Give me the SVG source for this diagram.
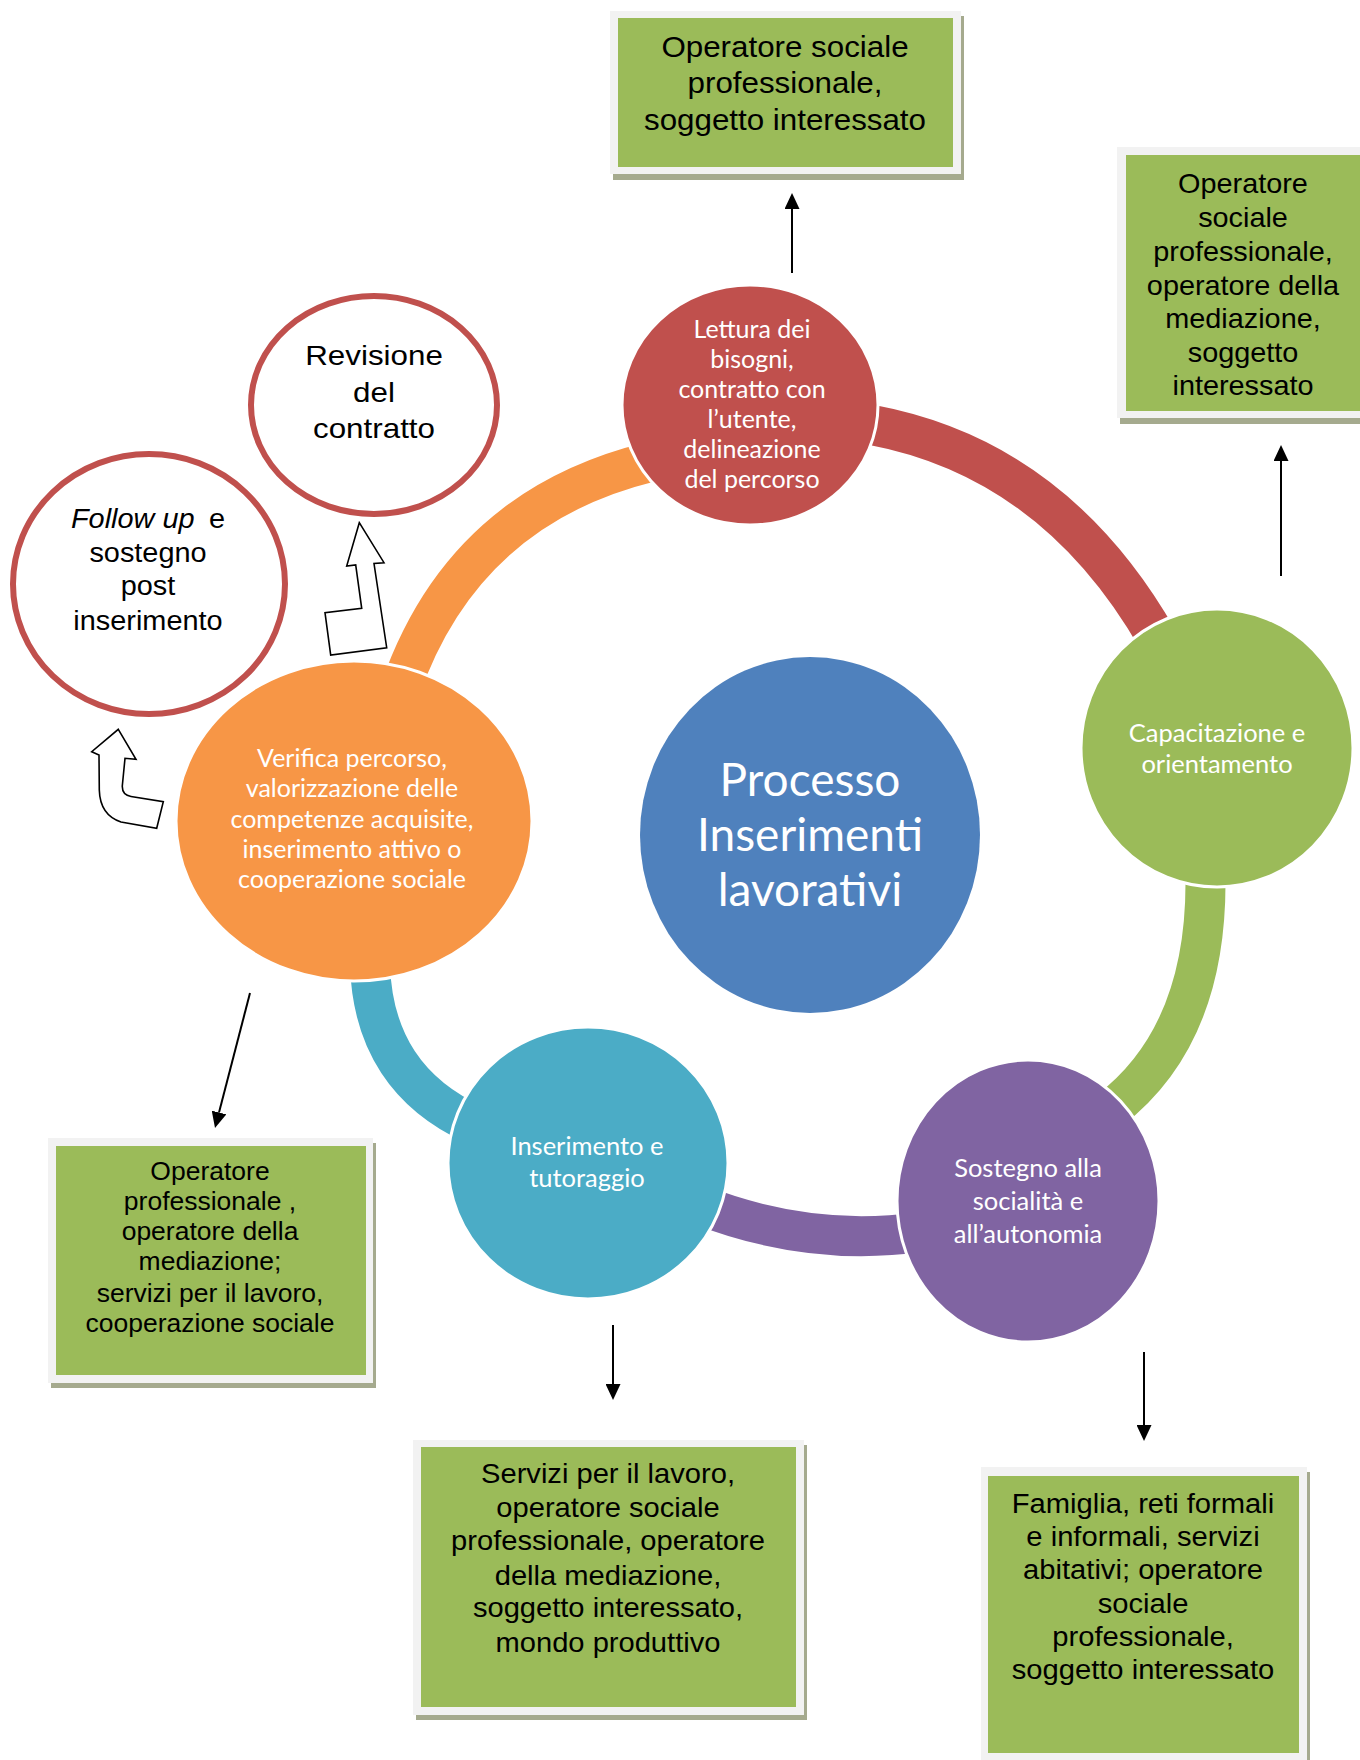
<svg xmlns="http://www.w3.org/2000/svg" width="1360" height="1760" viewBox="0 0 1360 1760">
  <style>
    .box-shadow { fill: #A5AA8E; }
    .box-frame { fill: #F2F2F2; }
    .box-fill { fill: #9BBB59; }
    .box-text { font-family: "Liberation Sans", Arial, sans-serif; fill: #000; text-anchor: middle; }
    .step-text { font-family: Lato, "Open Sans", sans-serif; fill: #FFFFFF; text-anchor: middle; font-size: 25px; }
    .step { stroke: #FFFFFF; stroke-width: 3; }
    .band { fill: none; stroke-width: 40; stroke-linecap: butt; }
    .note { fill: #FFFFFF; stroke: #C0504D; stroke-width: 6; }
    .link { stroke: #000; stroke-width: 2; fill: none; }
    .block-arrow { fill: #FFFFFF; stroke: #000; stroke-width: 1.6; stroke-linejoin: miter; }
  </style>
  <defs>
    <marker id="head" markerUnits="userSpaceOnUse" markerWidth="16" markerHeight="15" refX="0" refY="7.5" orient="auto">
      <path d="M0,0 L16,7.5 L0,15 Z" fill="#000"/>
    </marker>
  </defs>

  <rect width="1360" height="1760" fill="#FFFFFF"/>

  <!-- cycle bands between the steps -->
  <g id="connectors">
    <path class="band" stroke="#C0504D" d="M872,425 Q1055,459.5 1158,640"/>
    <path class="band" stroke="#9BBB59" d="M1205,860 Q1212.5,1031 1110,1110"/>
    <path class="band" stroke="#8064A2" d="M920,1232 Q810,1247.5 700,1205"/>
    <path class="band" stroke="#4BACC6" d="M475,1125 Q373.5,1079 370,965"/>
    <path class="band" stroke="#F79646" d="M400,690 Q463,508 650,462"/>

    <!-- arrows towards the actor boxes -->
    <line class="link" x1="792" y1="273" x2="792" y2="209" marker-end="url(#head)"/>
    <line class="link" x1="1281" y1="576" x2="1281" y2="461" marker-end="url(#head)"/>
    <line class="link" x1="250" y1="993" x2="219" y2="1112.5" marker-end="url(#head)"/>
    <line class="link" x1="613" y1="1325" x2="613" y2="1384" marker-end="url(#head)"/>
    <line class="link" x1="1144" y1="1352" x2="1144" y2="1425" marker-end="url(#head)"/>

    <!-- outlined block arrows towards the feedback steps -->
    <path class="block-arrow" d="M359.3,522.7 L384,562.7 L374,563.5 L386.7,647.7 L330.7,655 L325,612.7 L361.7,608.3 L355.7,565 L346.7,566 Z"/>
    <path class="block-arrow" d="M118.3,729.3 L136,759.3 L125,758.3 L122.3,786 Q122,795 131,796.5 L163.3,801.7 L156.7,828.3 L121,822 Q100,815 99.3,790 L99,755 L91.7,751.7 Z"/>
  </g>

  <!-- centre -->
  <g id="processo">
    <ellipse cx="810" cy="835" rx="170" ry="178" fill="#4F81BD"/>
    <text class="step-text" style="font-size:46px"><tspan x="810" y="796">Processo</tspan><tspan x="810" y="851">Inserimenti</tspan><tspan x="810" y="906">lavorativi</tspan></text>
  </g>

  <!-- cycle steps -->
  <g id="lettura">
    <ellipse class="step" cx="750" cy="405" rx="128" ry="120" fill="#C0504D"/>
    <text class="step-text"><tspan x="752" y="338">Lettura dei</tspan><tspan x="752" y="368">bisogni,</tspan><tspan x="752" y="398">contratto con</tspan><tspan x="752" y="428">l’utente,</tspan><tspan x="752" y="458">delineazione</tspan><tspan x="752" y="488">del percorso</tspan></text>
  </g>

  <g id="capacitazione">
    <ellipse class="step" cx="1217" cy="748" rx="136" ry="139" fill="#9BBB59"/>
    <text class="step-text" style="font-size:25.5px"><tspan x="1217" y="742">Capacitazione e</tspan><tspan x="1217" y="773">orientamento</tspan></text>
  </g>

  <g id="sostegno">
    <ellipse class="step" cx="1028" cy="1201" rx="131" ry="141" fill="#8064A2"/>
    <text class="step-text" style="font-size:25.5px"><tspan x="1028" y="1177">Sostegno alla</tspan><tspan x="1028" y="1210">socialità e</tspan><tspan x="1028" y="1243">all’autonomia</tspan></text>
  </g>

  <g id="inserimento">
    <ellipse class="step" cx="588" cy="1163" rx="140" ry="136" fill="#4BACC6"/>
    <text class="step-text" style="font-size:25.5px"><tspan x="587" y="1155">Inserimento e</tspan><tspan x="587" y="1187">tutoraggio</tspan></text>
  </g>

  <g id="verifica">
    <ellipse class="step" cx="354" cy="821" rx="178" ry="160" fill="#F79646"/>
    <text class="step-text"><tspan x="352" y="767">Verifica percorso,</tspan><tspan x="352" y="797">valorizzazione delle</tspan><tspan x="352" y="828">competenze acquisite,</tspan><tspan x="352" y="858">inserimento attivo o</tspan><tspan x="352" y="888">cooperazione sociale</tspan></text>
  </g>

  <!-- feedback steps -->
  <g id="revisione">
    <ellipse class="note" cx="374" cy="405" rx="123" ry="109"/>
    <g transform="translate(374 0) scale(1.12 1)">
      <text class="box-text" style="font-size:28px"><tspan x="0" y="365">Revisione</tspan><tspan x="0" y="402">del</tspan><tspan x="0" y="438">contratto</tspan></text>
    </g>
  </g>

  <g id="follow-up">
    <ellipse class="note" cx="149" cy="584" rx="136" ry="130"/>
    <g transform="translate(148 0) scale(1.07 1)">
      <text class="box-text" style="font-size:27px"><tspan x="0" y="528"><tspan font-style="italic">Follow up</tspan> <tspan dx="6">e</tspan></tspan><tspan x="0" y="562">sostegno</tspan><tspan x="0" y="595">post</tspan><tspan x="0" y="630">inserimento</tspan></text>
    </g>
  </g>

  <!-- actor boxes -->
  <g id="box-lettura">
    <rect class="box-shadow" x="613" y="16" width="351" height="164"/>
    <rect class="box-frame" x="610" y="11" width="351" height="163"/>
    <rect class="box-fill" x="618" y="18" width="335" height="149"/>
    <g transform="translate(785 0) scale(1.08 1)">
      <text class="box-text" style="font-size:29px"><tspan x="0" y="57">Operatore sociale</tspan><tspan x="0" y="93">professionale,</tspan><tspan x="0" y="130">soggetto interessato</tspan></text>
    </g>
  </g>

  <g id="box-capacitazione">
    <rect class="box-shadow" x="1120" y="152" width="245" height="272"/>
    <rect class="box-frame" x="1117" y="147" width="245" height="271"/>
    <rect class="box-fill" x="1126" y="155" width="236" height="256"/>
    <g transform="translate(1243 0) scale(1.03 1)">
      <text class="box-text" style="font-size:28px"><tspan x="0" y="193">Operatore</tspan><tspan x="0" y="227">sociale</tspan><tspan x="0" y="261">professionale,</tspan><tspan x="0" y="295">operatore della</tspan><tspan x="0" y="328">mediazione,</tspan><tspan x="0" y="362">soggetto</tspan><tspan x="0" y="395">interessato</tspan></text>
    </g>
  </g>

  <g id="box-verifica">
    <rect class="box-shadow" x="51" y="1143" width="325" height="245"/>
    <rect class="box-frame" x="48" y="1138" width="325" height="245"/>
    <rect class="box-fill" x="56" y="1146" width="310" height="229"/>
    <g transform="translate(210 0) scale(1.06 1)">
      <text class="box-text" style="font-size:25px"><tspan x="0" y="1180">Operatore</tspan><tspan x="0" y="1210">professionale ,</tspan><tspan x="0" y="1240">operatore della</tspan><tspan x="0" y="1270">mediazione;</tspan><tspan x="0" y="1302">servizi per il lavoro,</tspan><tspan x="0" y="1332">cooperazione sociale</tspan></text>
    </g>
  </g>

  <g id="box-inserimento">
    <rect class="box-shadow" x="416" y="1445" width="391" height="275"/>
    <rect class="box-frame" x="413" y="1440" width="391" height="275"/>
    <rect class="box-fill" x="421" y="1447" width="375" height="260"/>
    <g transform="translate(608 0) scale(1.04 1)">
      <text class="box-text" style="font-size:28px"><tspan x="0" y="1483">Servizi per il lavoro,</tspan><tspan x="0" y="1517">operatore sociale</tspan><tspan x="0" y="1550">professionale, operatore</tspan><tspan x="0" y="1585">della mediazione,</tspan><tspan x="0" y="1617">soggetto interessato,</tspan><tspan x="0" y="1652">mondo produttivo</tspan></text>
    </g>
  </g>

  <g id="box-sostegno">
    <rect class="box-shadow" x="984" y="1472" width="326" height="288"/>
    <rect class="box-frame" x="981" y="1467" width="326" height="293"/>
    <rect class="box-fill" x="988" y="1476" width="311" height="277"/>
    <g transform="translate(1143 0) scale(1.08 1)">
      <text class="box-text" style="font-size:27px"><tspan x="0" y="1513">Famiglia, reti formali</tspan><tspan x="0" y="1546">e informali, servizi</tspan><tspan x="0" y="1579">abitativi; operatore</tspan><tspan x="0" y="1613">sociale</tspan><tspan x="0" y="1646">professionale,</tspan><tspan x="0" y="1679">soggetto interessato</tspan></text>
    </g>
  </g>
</svg>
